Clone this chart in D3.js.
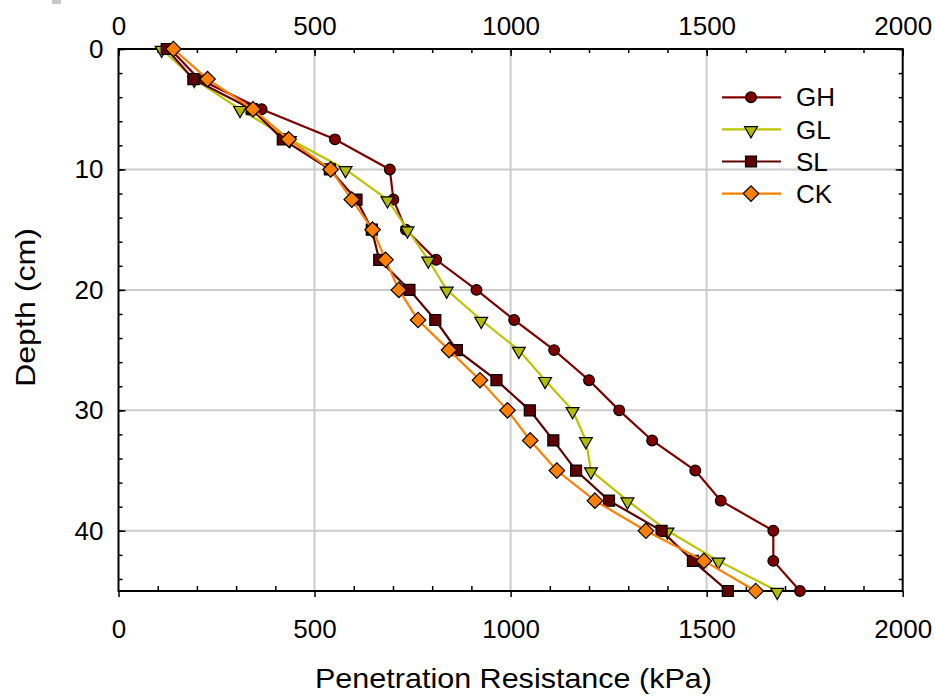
<!DOCTYPE html>
<html>
<head>
<meta charset="utf-8">
<script src="https://cdn.jsdelivr.net/npm/d3@7"></script>
<style>
  html, body { margin: 0; padding: 0; background: #ffffff; }
  svg { display: block; }
  text { font-family: "Liberation Sans", Arial, sans-serif; fill: #000; }
</style>
</head>
<body>
<svg id="chart" width="935" height="696"></svg>
<script>
// Depth of each reading (cm)
const depths = [0, 2.5, 5, 7.5, 10, 12.5, 15, 17.5, 20, 22.5, 25, 27.5, 30, 32.5, 35, 37.5, 40, 42.5, 45];

// Penetration resistance (kPa) per treatment
const GH = [132, 205, 365, 552, 692, 701, 733, 810, 913, 1009, 1111, 1200, 1277, 1361, 1471, 1536, 1670, 1670, 1738];
const GL = [110, 193, 310, 437, 579, 686, 737, 790, 837, 925, 1021, 1088, 1158, 1192, 1205, 1298, 1400, 1530, 1680];
const SL = [123, 191, 340, 419, 539, 607, 646, 665, 742, 808, 863, 964, 1049, 1109, 1167, 1251, 1385, 1465, 1554];
const CK = [140, 227, 343, 434, 541, 595, 648, 681, 715, 764, 843, 922, 992, 1050, 1118, 1215, 1345, 1493, 1625];

const seriesNames = ["GH", "GL", "SL", "CK"];
const seriesValues = [GH, GL, SL, CK];

// Axis ticks
const xMajorTicks = [0, 500, 1000, 1500, 2000];
const yMajorTicks = [0, 10, 20, 30, 40];

const svg = d3.select("#chart");

const plotLeft = 118.5, plotRight = 902.7, plotTop = 49, plotBottom = 591;

const x = d3.scaleLinear().domain([0, 2000]).range([plotLeft, plotRight]);
const y = d3.scaleLinear().domain([0, 45]).range([plotTop, plotBottom]);

const xMinor = d3.range(0, 2001, 100);
const yMinor = d3.range(0, 45.01, 2);

const styles = {
  GH: { line: "#800000", fill: "#800000", shape: "circle" },
  GL: { line: "#bcc400", fill: "#b4bc00", shape: "triangle" },
  SL: { line: "#5e0000", fill: "#5e0000", shape: "square" },
  CK: { line: "#ff8000", fill: "#ff8000", shape: "diamond" }
};

// small grey mark in the corner
svg.append("rect").attr("x", 52).attr("y", 0).attr("width", 9).attr("height", 4).attr("fill", "#c8c8c8");

// Grid lines
const grid = svg.append("g").attr("stroke", "#cccccc").attr("stroke-width", 2);
grid.selectAll("line.gx").data(xMajorTicks.filter(d => d > 0 && d < 2000)).join("line")
  .attr("x1", d => x(d)).attr("x2", d => x(d)).attr("y1", plotTop).attr("y2", plotBottom);
grid.selectAll("line.gy").data(yMajorTicks.filter(d => d > 0)).join("line")
  .attr("y1", d => y(d)).attr("y2", d => y(d)).attr("x1", plotLeft).attr("x2", plotRight);

// Axes (ticks drawn inward, bottom major ticks outward)
function styleAxis(g) {
  g.select(".domain").remove();
  g.selectAll(".tick line").attr("stroke", "#000").attr("stroke-width", 1.5);
  g.selectAll(".tick text").attr("font-size", 26).attr("fill", "#000")
    .attr("font-family", "Liberation Sans, Arial, sans-serif");
}

svg.append("g").attr("transform", `translate(0,${plotTop})`)
  .call(d3.axisTop(x).tickValues(xMinor).tickSize(-4).tickFormat(""))
  .call(styleAxis);
svg.append("g").attr("transform", `translate(0,${plotTop})`)
  .call(d3.axisTop(x).tickValues(xMajorTicks).tickSize(-7).tickPadding(14).tickFormat(d3.format("d")))
  .call(styleAxis);

svg.append("g").attr("transform", `translate(0,${plotBottom})`)
  .call(d3.axisBottom(x).tickValues(xMinor.filter(d => d % 500 !== 0)).tickSize(-5).tickFormat(""))
  .call(styleAxis);
svg.append("g").attr("transform", `translate(0,${plotBottom})`)
  .call(d3.axisBottom(x).tickValues(xMajorTicks).tickSize(6).tickPadding(23).tickFormat(d3.format("d")))
  .call(styleAxis);

svg.append("g").attr("transform", `translate(${plotLeft},0)`)
  .call(d3.axisLeft(y).tickValues(yMinor).tickSize(-4).tickFormat(""))
  .call(styleAxis);
svg.append("g").attr("transform", `translate(${plotLeft},0)`)
  .call(d3.axisLeft(y).tickValues(yMajorTicks).tickSize(-7).tickPadding(15).tickFormat(d3.format("d")))
  .call(styleAxis);

svg.append("g").attr("transform", `translate(${plotRight},0)`)
  .call(d3.axisRight(y).tickValues(yMinor).tickSize(-4).tickFormat(""))
  .call(styleAxis);
svg.append("g").attr("transform", `translate(${plotRight},0)`)
  .call(d3.axisRight(y).tickValues(yMajorTicks).tickSize(-7).tickFormat(""))
  .call(styleAxis);

// Frame
svg.append("rect").attr("x", plotLeft).attr("y", plotTop)
  .attr("width", plotRight - plotLeft).attr("height", plotBottom - plotTop)
  .attr("fill", "none").attr("stroke", "#000").attr("stroke-width", 2);

// Marker shapes
function markerPath(shape) {
  if (shape === "circle") return d3.symbol(d3.symbolCircle, 90)();
  if (shape === "triangle") return d3.symbol(d3.symbolTriangle, 72)();
  if (shape === "square") return d3.symbol(d3.symbolSquare, 121)();
  return d3.symbol(d3.symbolSquare, 120)();
}
function markerTransform(shape, px, py) {
  if (shape === "triangle") return `translate(${px},${py + 1}) rotate(180)`;
  if (shape === "diamond") return `translate(${px},${py}) rotate(45)`;
  return `translate(${px},${py})`;
}

const line = d3.line().x(d => x(d[0])).y(d => y(d[1]));

seriesNames.forEach((name, i) => {
  const st = styles[name];
  const pts = seriesValues[i].map((v, j) => [v, depths[j]]);
  const g = svg.append("g");
  g.append("path").datum(pts).attr("d", line)
    .attr("fill", "none").attr("stroke", st.line).attr("stroke-width", 2.2);
  g.selectAll("path.m").data(pts).join("path").attr("class", "m")
    .attr("d", markerPath(st.shape))
    .attr("transform", d => markerTransform(st.shape, x(d[0]), y(d[1])))
    .attr("fill", st.fill).attr("stroke", "#000").attr("stroke-width", 1.2);
});

// Legend
const legend = svg.append("g");
seriesNames.forEach((name, i) => {
  const st = styles[name];
  const ly = 97.3 + i * 32.1;
  legend.append("line").attr("x1", 722).attr("x2", 781).attr("y1", ly).attr("y2", ly)
    .attr("stroke", st.line).attr("stroke-width", 2.2);
  legend.append("path").attr("d", markerPath(st.shape))
    .attr("transform", markerTransform(st.shape, 751, ly))
    .attr("fill", st.fill).attr("stroke", "#000").attr("stroke-width", 1.2);
  legend.append("text").attr("x", 796).attr("y", ly).attr("dy", "0.35em")
    .attr("font-size", 26).text(name);
});

// Axis titles
svg.append("text").attr("x", (315 + 712) / 2).attr("y", 688).attr("text-anchor", "middle")
  .attr("font-size", 28).attr("textLength", 397).attr("lengthAdjust", "spacingAndGlyphs")
  .text("Penetration Resistance (kPa)");
svg.append("text").attr("transform", "translate(35,307.5) rotate(-90)").attr("text-anchor", "middle")
  .attr("font-size", 28).attr("textLength", 159).attr("lengthAdjust", "spacingAndGlyphs")
  .text("Depth (cm)");
</script>
</body>
</html>
